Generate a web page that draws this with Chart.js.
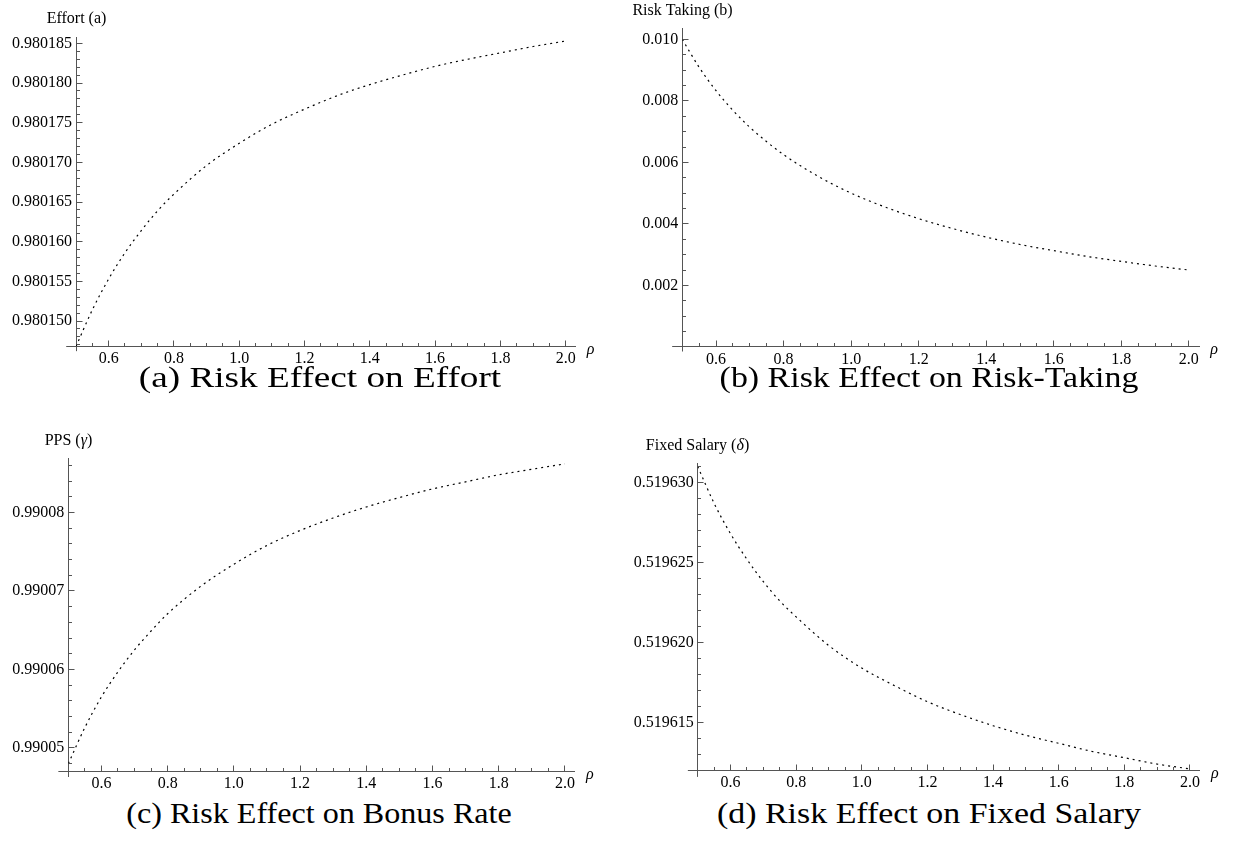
<!DOCTYPE html>
<html><head><meta charset="utf-8">
<script src="https://cdn.jsdelivr.net/npm/chart.js@4.4.1/dist/chart.umd.min.js"></script>
<style>
html,body{margin:0;padding:0;background:#fff;}
body{width:1234px;height:842px;position:relative;overflow:hidden;}
canvas{position:absolute;}
.cap{position:absolute;width:600px;height:40px;line-height:40px;text-align:center;font-family:"Liberation Serif",serif;font-size:30px;color:#000;transform-origin:50% 50%;white-space:nowrap;}
</style></head><body>
<canvas id="ca" width="617" height="370" style="left:0;top:0"></canvas>
<canvas id="cb" width="617" height="370" style="left:617px;top:0"></canvas>
<canvas id="cc" width="617" height="370" style="left:0;top:421px"></canvas>
<canvas id="cd" width="617" height="370" style="left:617px;top:421px"></canvas>
<div class="cap" style="left:20px;top:357px;transform:scaleX(1.24)">(a) Risk Effect on Effort</div>
<div class="cap" style="left:629px;top:357px;transform:scaleX(1.13)">(b) Risk Effect on Risk-Taking</div>
<div class="cap" style="left:19px;top:793px;transform:scaleX(1.07)">(c) Risk Effect on Bonus Rate</div>
<div class="cap" style="left:629px;top:793px;transform:scaleX(1.13)">(d) Risk Effect on Fixed Salary</div>
<script>
// ---- data ----
const rho = [0.5,0.55,0.6,0.65,0.7,0.75,0.8,0.9,1.0,1.1,1.2,1.3,1.4,1.5,1.6,1.7,1.8,1.9,2.0];
const effortA = [0.9801468,0.9801514,0.9801553,0.9801586,0.9801614,0.9801639,0.9801660,0.9801696,0.9801724,0.9801748,0.9801767,0.9801784,0.9801798,0.9801810,0.9801821,0.9801830,0.9801838,0.9801846,0.9801853];
const riskB = [0.0100,0.00909,0.00833,0.00769,0.00714,0.00667,0.00625,0.00556,0.0050,0.00455,0.00417,0.00385,0.00357,0.00333,0.00313,0.00294,0.00278,0.00263,0.0025];
const ppsC = [0.9900480,0.9900526,0.9900565,0.9900597,0.9900625,0.9900649,0.9900671,0.9900706,0.9900734,0.9900758,0.9900777,0.9900793,0.9900807,0.9900819,0.9900830,0.9900839,0.9900848,0.9900855,0.9900862];
const salaryD = [0.5196310,0.5196287,0.5196268,0.5196252,0.5196238,0.5196226,0.5196216,0.5196198,0.5196184,0.5196173,0.5196163,0.5196155,0.5196148,0.5196142,0.5196137,0.5196132,0.5196128,0.5196124,0.5196121];

// ---- ticks ----
const xMajorTicks = [0.6,0.8,1.0,1.2,1.4,1.6,1.8,2.0];
const xMinorStep = 0.05;
const yMajorA = [0.980150,0.980155,0.980160,0.980165,0.980170,0.980175,0.980180,0.980185];
const yMajorB = [0.002,0.004,0.006,0.008,0.010];
const yMajorC = [0.99005,0.99006,0.99007,0.99008];
const yMajorD = [0.519615,0.519620,0.519625,0.519630];

// ---- axis labels ----
const yLabelA = [['Effort (a)', false]];
const yLabelB = [['Risk Taking (b)', false]];
const yLabelC = [['PPS (', false], ['\u03B3', true], [')', false]];
const yLabelD = [['Fixed Salary (', false], ['\u03B4', true], [')', false]];
const xLabel = [['\u03C1', true]];

// ---- axis ranges ----
const X_ORIGIN = 0.5, X_AXIS_START = 0.47, X_AXIS_END = 2.03;
const AXIS_COLOR = '#555';
const FONT = '"Liberation Serif", "Times New Roman", serif';

function minorList(lo, hi, step, majors){
  const out = [];
  let k = Math.ceil(lo/step - 1e-6);
  while (k*step <= hi + step*1e-6) {
    const v = k*step;
    if (v > lo + step*0.1 && !majors.some(m => Math.abs(m - v) < step*0.01)) out.push(v);
    k++;
  }
  return out;
}

const al = p => Math.round(p - 0.5) + 0.5;

function drawParts(ctx, parts, cx, cy, size){
  let total = 0;
  parts.forEach(([t, it]) => { ctx.font = (it ? 'italic ' : '') + size + 'px ' + FONT; total += ctx.measureText(t).width; });
  let x = cx - total/2;
  ctx.textAlign = 'left'; ctx.textBaseline = 'middle';
  parts.forEach(([t, it]) => { ctx.font = (it ? 'italic ' : '') + size + 'px ' + FONT; ctx.fillText(t, x, cy); x += ctx.measureText(t).width; });
}

const mmaAxes = {
  id: 'mmaAxes',
  afterDraw(chart, args, o) {
    const ctx = chart.ctx, xs = chart.scales.x, ys = chart.scales.y;
    const AX = al(xs.getPixelForValue(X_ORIGIN));
    const AY = al(ys.getPixelForValue(o.origin));
    ctx.save();
    ctx.strokeStyle = AXIS_COLOR; ctx.lineWidth = 1;
    ctx.beginPath();
    ctx.moveTo(xs.getPixelForValue(X_AXIS_START), AY); ctx.lineTo(AX, AY);
    ctx.moveTo(AX, AY); ctx.lineTo(AX, ys.getPixelForValue(o.low));
    o.majors.forEach(v => { const p = al(ys.getPixelForValue(v)); ctx.moveTo(AX, p); ctx.lineTo(AX + 6, p); });
    minorList(o.origin, ys.max, o.minorStep, o.majors).forEach(v => { const p = al(ys.getPixelForValue(v)); ctx.moveTo(AX, p); ctx.lineTo(AX + 3.5, p); });
    xMajorTicks.forEach(v => { const p = al(xs.getPixelForValue(v)); ctx.moveTo(p, AY); ctx.lineTo(p, AY - 6); });
    minorList(X_ORIGIN, 2.0, xMinorStep, xMajorTicks).forEach(v => { const p = al(xs.getPixelForValue(v)); ctx.moveTo(p, AY); ctx.lineTo(p, AY - 3.5); });
    ctx.stroke();
    ctx.fillStyle = '#000';
    drawParts(ctx, o.label, AX, chart.chartArea.top - 18, 16);
    drawParts(ctx, xLabel, xs.getPixelForValue(X_AXIS_END) + 15, AY + 3, 16);
    ctx.restore();
  }
};

function makeChart(id, series, c){
  const el = document.getElementById(id);
  const W = el.width, H = el.height;
  return new Chart(el, {
    type: 'line',
    data: { datasets: [{
      data: rho.map((x, i) => ({x: x, y: series[i]})),
      borderColor: '#000', borderWidth: 1.2, borderDash: [2, 4],
      pointRadius: 0, fill: false, cubicInterpolationMode: 'monotone'
    }]},
    options: {
      responsive: false, animation: false, devicePixelRatio: 1,
      layout: { padding: { top: c.top, right: W - c.right, left: 0, bottom: 0 } },
      plugins: {
        legend: { display: false }, tooltip: { enabled: false },
        mmaAxes: { origin: c.origin, low: c.low, majors: c.majors, minorStep: c.minorStep, label: c.label }
      },
      scales: {
        x: {
          type: 'linear', position: 'bottom', min: X_ORIGIN, max: X_AXIS_END,
          afterFit: s => { s.height = H - c.bottom; },
          afterBuildTicks: s => { s.ticks = xMajorTicks.map(v => ({value: v})); },
          ticks: { autoSkip: false, maxRotation: 0, padding: 3, color: '#000',
                   font: { family: FONT, size: 16 }, callback: v => Number(v).toFixed(1) },
          grid: { display: false, drawTicks: false },
          border: { display: true, color: AXIS_COLOR, width: 1 }
        },
        y: {
          type: 'linear', position: 'left', min: c.origin, max: c.max,
          afterFit: s => { s.width = c.left; },
          afterBuildTicks: s => { s.ticks = c.majors.map(v => ({value: v})); },
          ticks: { autoSkip: false, padding: 4, color: '#000',
                   font: { family: FONT, size: 16 }, callback: v => Number(v).toFixed(c.dec) },
          grid: { display: false, drawTicks: false },
          border: { display: true, color: AXIS_COLOR, width: 1 }
        }
      }
    },
    plugins: [mmaAxes]
  });
}

makeChart('ca', effortA, { left: 76, right: 575.5, top: 37, bottom: 346.4,
  origin: 0.9801468, max: 0.9801858, low: 0.9801462, majors: yMajorA, minorStep: 1e-6, dec: 6, label: yLabelA });
makeChart('cb', riskB, { left: 65.3, right: 582, top: 28.3, bottom: 346.9,
  origin: 0, max: 0.01036, low: -0.00015, majors: yMajorB, minorStep: 0.0005, dec: 3, label: yLabelB });
makeChart('cc', ppsC, { left: 68.3, right: 574.9, top: 37.3, bottom: 350.5,
  origin: 0.990047, max: 0.9900869, low: 0.9900463, majors: yMajorC, minorStep: 2e-6, dec: 5, label: yLabelC });
makeChart('cd', salaryD, { left: 80.7, right: 582.8, top: 42.3, bottom: 349.5,
  origin: 0.519612, max: 0.5196312, low: 0.5196116, majors: yMajorD, minorStep: 1e-6, dec: 6, label: yLabelD });
</script>
</body></html>
